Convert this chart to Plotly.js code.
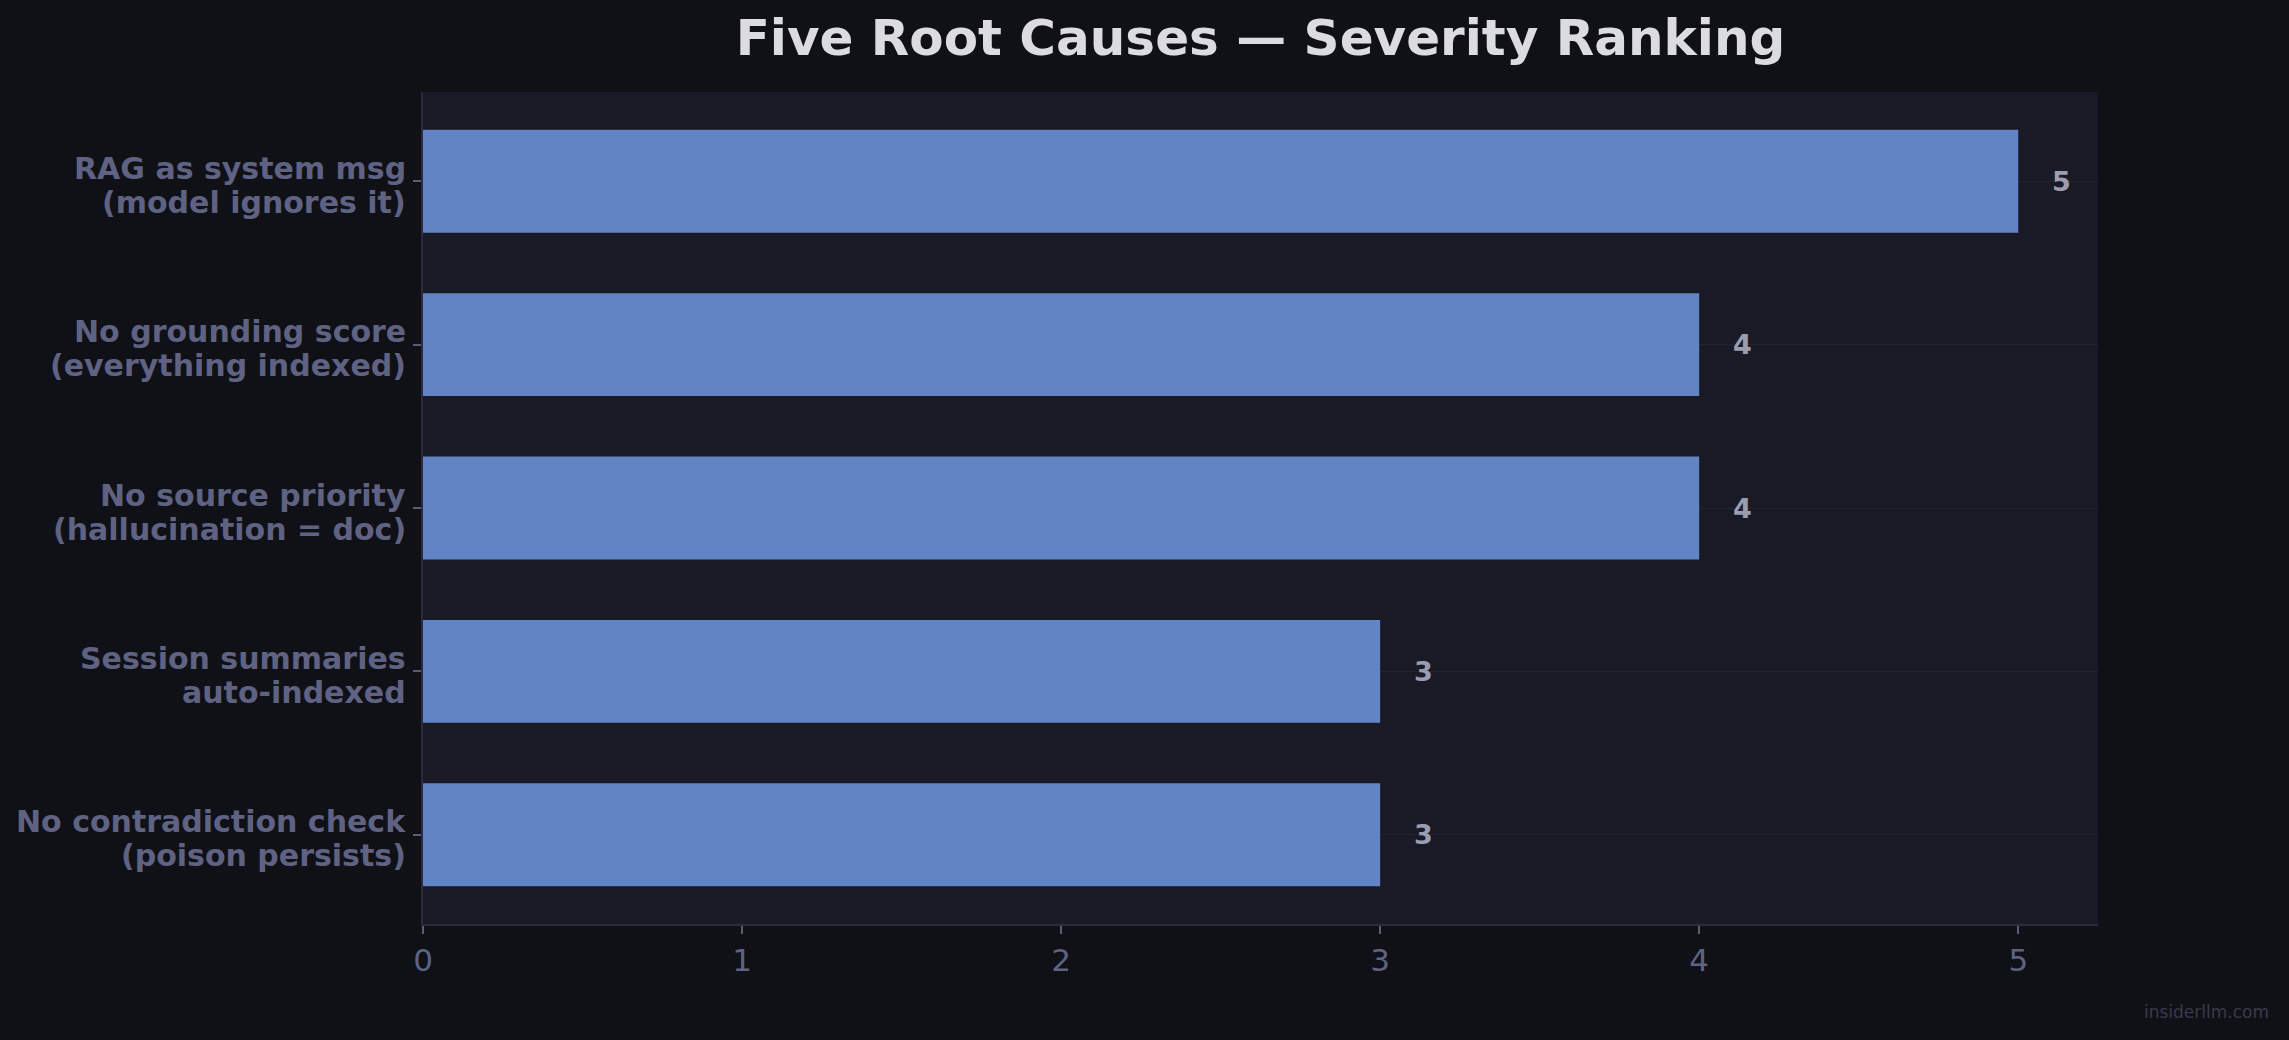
<!DOCTYPE html>
<html>
<head>
<meta charset="utf-8">
<script src="https://cdn.plot.ly/plotly-3.0.1.min.js"></script>
<style>
  html, body { margin: 0; padding: 0; background: #101117; }
  #chart { width: 2289px; height: 1040px; }
</style>
</head>
<body>
<div id="chart"></div>
<script>
// ---- data ----
const categories = [
  "RAG as system msg<br>(model ignores it)",
  "No grounding score<br>(everything indexed)",
  "No source priority<br>(hallucination = doc)",
  "Session summaries<br>auto-indexed",
  "No contradiction check<br>(poison persists)"
];
const severity = [5, 4, 4, 3, 3];
const valueLabels = ["5", "4", "4", "3", "3"];
const xTickVals = [0, 1, 2, 3, 4, 5];
const xTickText = ["0", "1", "2", "3", "4", "5"];

const FONT = "DejaVu Sans, Liberation Sans, sans-serif";

const trace = {
  type: "bar",
  orientation: "h",
  x: severity,
  y: categories,
  width: 0.63,
  marker: { color: "#6384c4", line: { width: 0 } },
  hoverinfo: "skip",
  showlegend: false
};

const annotations = severity.map((v, i) => ({
  x: v + 0.1,
  y: categories[i],
  xref: "x",
  yref: "y",
  text: valueLabels[i],
  showarrow: false,
  xanchor: "left",
  yanchor: "middle",
  font: { family: FONT, size: 27, color: "#9a9cb0", weight: "bold" }
}));

// category labels, two lines each, with tighter line spacing (like the reference)
const lineShifts = [13, -21];
categories.forEach((cat) => {
  cat.split("<br>").forEach((line, j) => {
    annotations.push({
      xref: "paper",
      yref: "y",
      x: 0,
      y: cat,
      xshift: -16,
      yshift: lineShifts[j],
      xanchor: "right",
      yanchor: "middle",
      text: line,
      showarrow: false,
      borderpad: 0,
      font: { family: FONT, size: 30, color: "#5f6282", weight: "bold" }
    });
  });
});

annotations.push({
  xref: "paper",
  yref: "paper",
  x: 1.1033,
  y: -0.1058,
  xanchor: "right",
  yanchor: "middle",
  text: "insiderllm.com",
  showarrow: false,
  font: { family: FONT, size: 17, color: "#393a4c" }
});

const layout = {
  width: 2289,
  height: 1040,
  paper_bgcolor: "#101117",
  plot_bgcolor: "#1a1a26",
  margin: { l: 423, r: 191, t: 92, b: 116, pad: 0 },
  font: { family: FONT, color: "#5f6282" },
  title: {
    text: "Five Root Causes — Severity Ranking",
    font: { family: FONT, size: 50, color: "#dcdce0", weight: "bold" },
    x: 0.5,
    xref: "paper",
    xanchor: "center",
    y: 0.9635,
    yref: "container",
    yanchor: "middle"
  },
  xaxis: {
    range: [0, 5.25],
    tickvals: xTickVals,
    ticktext: xTickText,
    showgrid: false,
    zeroline: false,
    showline: true,
    linecolor: "#2b2b3d",
    linewidth: 2,
    ticks: "outside",
    ticklen: 8,
    tickwidth: 2,
    tickcolor: "#5a5d78",
    tickfont: { family: FONT, size: 31, color: "#5f6282" },
    fixedrange: true
  },
  yaxis: {
    type: "category",
    categoryorder: "array",
    categoryarray: categories,
    range: [4.5465, -0.5465],
    showgrid: true,
    gridcolor: "#23232f",
    gridwidth: 1,
    zeroline: false,
    showline: true,
    linecolor: "#2b2b3d",
    linewidth: 2,
    ticks: "outside",
    ticklen: 8,
    tickwidth: 2,
    tickcolor: "#5a5d78",
    showticklabels: false,
    fixedrange: true
  },
  annotations: annotations,
  bargap: 0.37
};

Plotly.newPlot("chart", [trace], layout, { displayModeBar: false, staticPlot: true });
</script>
</body>
</html>
